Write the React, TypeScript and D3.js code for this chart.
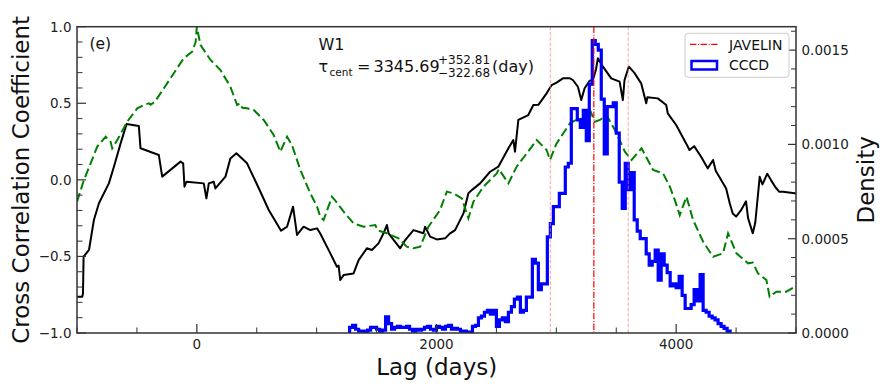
import React from "react";
import * as d3 from "d3";

// CCF (black, solid) — lag in days, correlation coefficient
const ccfLag = [
  -1000, -956, -950, -945, -900, -859, -817, -734, -692, -636, -586, -484, -470, -317, -289, -136, -114, -103, -86,
  58, 80, 100, 141, 155, 239, 280, 330, 419, 517, 600, 703, 753, 803, 836, 891, 947, 1003, 1030, 1114, 1169, 1183,
  1197, 1225, 1308, 1350, 1419, 1461, 1516, 1558, 1586, 1600, 1697, 1739, 1808, 1891, 1905, 1947, 2002, 2072, 2114,
  2155, 2225, 2266, 2294, 2364, 2447, 2516, 2600, 2641, 2655, 2683, 2766, 2808, 2850, 2919, 2961, 3002, 3055, 3114,
  3138, 3180, 3208, 3236, 3278, 3305, 3330, 3347, 3389, 3458, 3528, 3555, 3569, 3605, 3650, 3708, 3750, 3760, 3847,
  3917, 3930, 4000, 4083, 4111, 4150, 4208, 4263, 4308, 4330, 4417, 4447, 4472, 4500, 4540, 4583, 4600, 4639, 4660,
  4697, 4720, 4760, 4790, 4830, 4861, 4892, 4989, 5000,
];
const ccfR = [
  -0.763, -0.763, -0.74, -0.502, -0.458, -0.262, -0.153, -0.023, 0.086, 0.238, 0.365, 0.352, 0.206, 0.162, 0.021,
  0.119, 0.108, -0.045, -0.012, -0.023, -0.121, -0.023, -0.012, -0.056, 0.021, 0.14, 0.173, 0.108, -0.055, -0.197,
  -0.332, -0.306, -0.175, -0.36, -0.306, -0.328, -0.317, -0.35, -0.48, -0.567, -0.56, -0.654, -0.622, -0.611, -0.524,
  -0.447, -0.458, -0.415, -0.349, -0.295, -0.349, -0.447, -0.393, -0.328, -0.349, -0.306, -0.371, -0.389, -0.382,
  -0.349, -0.328, -0.219, -0.088, -0.067, -0.023, 0.053, 0.086, 0.206, 0.26, 0.184, 0.391, 0.423, 0.489, 0.49,
  0.565, 0.619, 0.635, 0.663, 0.663, 0.652, 0.608, 0.521, 0.598, 0.647, 0.652, 0.717, 0.794, 0.739, 0.663, 0.641,
  0.521, 0.652, 0.739, 0.7, 0.63, 0.5, 0.54, 0.532, 0.489, 0.434, 0.358, 0.238, 0.195, 0.22, 0.151, 0.075, 0.13,
  0.06, -0.056, -0.153, -0.22, -0.24, -0.2, -0.14, -0.25, -0.349, -0.28, 0.02, -0.03, 0.04, 0.0, -0.05, -0.078,
  -0.078, -0.088, -0.09,
];

// ACF (green, dashed)
const acfLag = [
  -1000, -942, -886, -831, -761, -720, -706, -664, -581, -497, -442, -400, -386, -350, -275, -192, -109, -39, -10, 0,
  30, 114, 197, 280, 336, 360, 380, 419, 475, 558, 641, 697, 753, 794, 864, 947, 1003, 1030, 1058, 1128, 1150, 1225,
  1308, 1391, 1489, 1510, 1586, 1683, 1752, 1808, 1864, 1933, 2030, 2086, 2141, 2211, 2266, 2308, 2391, 2503, 2520,
  2600, 2669, 2753, 2836, 2919, 2947, 3002, 3114, 3160, 3225, 3280, 3322, 3364, 3419, 3489, 3572, 3628, 3711, 3808,
  3891, 3947, 3989, 4030, 4086, 4141, 4225, 4308, 4391, 4433, 4503, 4600, 4640, 4683, 4753, 4780, 4836, 4919, 4989,
  5000,
];
const acfR = [
  -0.143, -0.001, 0.108, 0.217, 0.282, 0.249, 0.206, 0.26, 0.38, 0.467, 0.489, 0.5, 0.49, 0.51, 0.598, 0.696, 0.794,
  0.837, 0.9, 1.0, 0.881, 0.783, 0.717, 0.608, 0.489, 0.5, 0.47, 0.467, 0.456, 0.391, 0.293, 0.184, 0.282, 0.227,
  0.064, -0.088, -0.175, -0.24, -0.262, -0.11, -0.13, -0.208, -0.284, -0.306, -0.295, -0.33, -0.349, -0.382, -0.436,
  -0.447, -0.436, -0.306, -0.197, -0.077, -0.088, -0.121, -0.251, -0.143, -0.045, 0.042, 0.07, -0.023, 0.086, 0.173,
  0.26, 0.195, 0.13, 0.238, 0.369, 0.39, 0.402, 0.456, 0.38, 0.391, 0.423, 0.325, 0.184, 0.13, 0.206, 0.064, 0.042,
  -0.045, -0.132, -0.23, -0.11, -0.262, -0.404, -0.502, -0.48, -0.349, -0.48, -0.545, -0.54, -0.611, -0.654, -0.763,
  -0.73, -0.73, -0.698, -0.69,
];

// CCCD histogram, density in units of 1e-4, bins of 25 days from 1275
const cccdStart = 1275;
const cccdBinWidth = 25;
const cccdDensity = [
  0.3, 0.4, 0.2, 0.1, 0.1, 0.05, 0.15, 0.3, 0.3, 0.2, 0.1, 0.15, 0.85, 0.5, 0.2, 0.3, 0.35, 0.3, 0.3, 0.35, 0.2, 0.1,
  0.2, 0.15, 0.2, 0.3, 0.35, 0.2, 0.15, 0.35, 0.3, 0.2, 0.35, 0.4, 0.2, 0.25, 0.2, 0.1, 0.1, 0.05, 0.05,
  0.35, 0.4, 0.8, 0.9, 1.1, 1.2, 1.0, 1.2, 0.35, 0.7, 0.8, 0.6, 1.1, 1.4, 1.8, 1.9, 1.1, 1.2, 1.9, 1.9, 3.9, 3.7,
  2.3, 2.6, 2.6, 5.1, 5.8, 6.7, 6.7, 7.4, 7.4, 8.8, 9.0, 11.9, 11.9, 11.3, 10.9, 11.8, 10.2, 13.2, 15.5, 15.3, 15.0,
  12.4, 9.5, 12.0, 12.0, 12.2, 10.6, 8.0, 6.6, 9.0, 7.6, 8.5, 6.0, 5.4, 5.0, 5.0, 4.2, 3.6, 3.8, 4.4, 2.8, 4.2, 3.6,
  3.2, 2.5, 2.6, 2.4, 3.0, 2.0, 1.3, 1.3, 1.5, 2.3, 1.7, 3.1, 1.2, 1.1, 0.9, 0.8, 0.7, 0.5, 0.35, 0.25, 0.1,
];

// JAVELIN lag and its error bounds
const javelinLag = 3313;
const javelinBounds = [2950, 3600];

const xMajor = [0, 2000, 4000];
const yLeftMajor = [-1, -0.5, 0, 0.5, 1];
const yRightMajor = [0, 5, 10, 15];

const W = 888;
const H = 391;
const m = { left: 77, right: 796, top: 26.7, bottom: 333 };
const font = "DejaVu Sans, sans-serif";
const axisColor = "#333";

export default function App() {
  const x = d3.scaleLinear().domain([-1000, 5000]).range([m.left, m.right]);
  const yL = d3.scaleLinear().domain([-1, 1]).range([m.bottom, m.top]);
  const yR = d3.scaleLinear().domain([0, 16.24]).range([m.bottom, m.top]);

  const ccfPath = d3.line<number>().x((d) => x(ccfLag[d])).y((d) => yL(ccfR[d]))(d3.range(ccfLag.length));
  const acfPath = d3.line<number>().x((d) => x(acfLag[d])).y((d) => yL(acfR[d]))(d3.range(acfLag.length));

  // step outline like matplotlib histtype="step"
  const edges = cccdDensity.map((_, i) => cccdStart + i * cccdBinWidth);
  let histPath = `M${x(edges[0])},${yR(0)}`;
  cccdDensity.forEach((v, i) => {
    histPath += `L${x(edges[i])},${yR(v)}L${x(edges[i] + cccdBinWidth)},${yR(v)}`;
  });
  histPath += `L${x(edges[edges.length - 1] + cccdBinWidth)},${yR(0)}`;

  const xMinor = d3.range(-1000, 5001, 500).filter((d) => !xMajor.includes(d));
  const yLMinor = d3.range(-10, 11).map((d) => d / 10).filter((d) => !yLeftMajor.some((v) => Math.abs(v - d) < 1e-9));
  const yRMinor = d3.range(0, 17).filter((d) => d % 5 !== 0);
  const fmtL = d3.format(".1f");

  return (
    <svg width={W} height={H} style={{ position: "absolute", left: 0, top: 0 }} fontFamily={font}>
      <defs>
        <clipPath id="plot">
          <rect x={m.left} y={m.top} width={m.right - m.left} height={m.bottom - m.top} />
        </clipPath>
      </defs>
      <rect width={W} height={H} fill="#fff" />

      <g clipPath="url(#plot)">
        <path d={ccfPath ?? ""} fill="none" stroke="#000" strokeWidth={2} strokeLinejoin="round" />
        <path d={acfPath ?? ""} fill="none" stroke="#008000" strokeWidth={2} strokeDasharray="9,4" />
        <path d={histPath} fill="none" stroke="#0000ff" strokeWidth={3.2} strokeLinejoin="miter" />
        {javelinBounds.map((b) => (
          <line key={b} x1={x(b)} x2={x(b)} y1={m.top} y2={m.bottom} stroke="#ff8080" strokeOpacity={0.7}
            strokeWidth={1} strokeDasharray="3.7,1.6" />
        ))}
        <line x1={x(javelinLag)} x2={x(javelinLag)} y1={m.top} y2={m.bottom} stroke="#ff0000" strokeWidth={1.2}
          strokeDasharray="6.4,1.6,1,1.6" />
      </g>

      {/* frame */}
      <rect x={m.left} y={m.top} width={m.right - m.left} height={m.bottom - m.top} fill="none"
        stroke={axisColor} strokeWidth={1.5} />

      {/* x ticks */}
      {xMajor.map((t) => (
        <g key={t}>
          <line x1={x(t)} x2={x(t)} y1={m.bottom} y2={m.bottom - 9} stroke={axisColor} strokeWidth={1.2} />
          <text x={x(t)} y={348.5} fontSize={13.5} textAnchor="middle" fill="#222">{t}</text>
        </g>
      ))}
      {xMinor.map((t) => (
        <line key={t} x1={x(t)} x2={x(t)} y1={m.bottom} y2={m.bottom - 5.5} stroke={axisColor} strokeWidth={1} />
      ))}

      {/* left ticks */}
      {yLeftMajor.map((t) => (
        <g key={t}>
          <line x1={m.left} x2={m.left + 9} y1={yL(t)} y2={yL(t)} stroke={axisColor} strokeWidth={1.2} />
          <text x={71.5} y={yL(t)} dy="0.36em" fontSize={13.5} textAnchor="end" fill="#222">{fmtL(t)}</text>
        </g>
      ))}
      {yLMinor.map((t) => (
        <line key={t} x1={m.left} x2={m.left + 5.5} y1={yL(t)} y2={yL(t)} stroke={axisColor} strokeWidth={1} />
      ))}

      {/* right ticks */}
      {yRightMajor.map((t) => (
        <g key={t}>
          <line x1={m.right} x2={m.right - 8} y1={yR(t)} y2={yR(t)} stroke={axisColor} strokeWidth={1.2} />
          <text x={801.5} y={yR(t)} dy="0.36em" fontSize={13.5} fill="#222">{(t * 1e-4).toFixed(4)}</text>
        </g>
      ))}
      {yRMinor.map((t) => (
        <line key={t} x1={m.right} x2={m.right - 5} y1={yR(t)} y2={yR(t)} stroke={axisColor} strokeWidth={1} />
      ))}

      {/* axis labels */}
      <text x={436.7} y={375} fontSize={23} textAnchor="middle" fill="#111">Lag (days)</text>
      <text transform={`translate(29,${(m.top + m.bottom) / 2}) rotate(-90)`} fontSize={23} textAnchor="middle"
        fill="#111">Cross Correlation Coefficient</text>
      <text transform={`translate(873.5,${(m.top + m.bottom) / 2}) rotate(-90)`} fontSize={23} textAnchor="middle"
        fill="#111">Density</text>

      {/* annotations */}
      <text x={89.5} y={48.5} fontSize={15.5} fill="#111">(e)</text>
      <text x={318.5} y={50} fontSize={16} fill="#111">W1</text>
      <text x={318.5} y={71.7} fontSize={16} fill="#111">τ</text>
      <text x={329.5} y={75.5} fontSize={10.5} fill="#111">cent</text>
      <text x={357} y={71.7} fontSize={16} fill="#111">=</text>
      <text x={373.5} y={71.7} fontSize={16} fill="#111">3345.69</text>
      <text x={438} y={63.5} fontSize={12} fill="#111">+352.81</text>
      <text x={438} y={77} fontSize={12} fill="#111">−322.68</text>
      <text x={492} y={71.7} fontSize={16} fill="#111">(day)</text>

      {/* legend */}
      <rect x={685} y={33.3} width={104} height={44} rx={3} fill="#fff" fillOpacity={0.8} stroke="#ccc" />
      <line x1={690} x2={718} y1={44.3} y2={44.3} stroke="#ff0000" strokeWidth={1.2} strokeDasharray="6.4,1.6,1,1.6" />
      <text x={729} y={49.5} fontSize={14} fill="#111">JAVELIN</text>
      <rect x={691.5} y={61} width={25.5} height={8.5} fill="none" stroke="#0000ff" strokeWidth={2.5} />
      <text x={729} y={70} fontSize={14} fill="#111">CCCD</text>
    </svg>
  );
}
